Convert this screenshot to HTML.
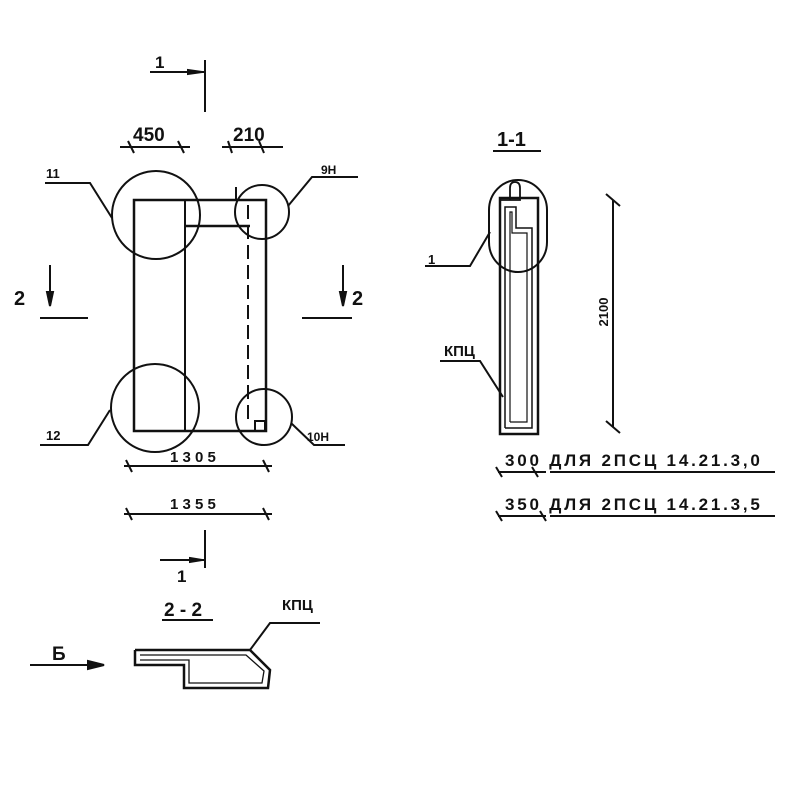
<!DOCTYPE html>
<html><head><meta charset="utf-8"><style>
html,body{margin:0;padding:0;background:#fff;}
svg{display:block;}
text{font-family:"Liberation Sans","DejaVu Sans",sans-serif;font-weight:bold;fill:#111;}
</style></head><body>
<svg width="800" height="800" viewBox="0 0 800 800" xmlns="http://www.w3.org/2000/svg">
<g stroke="#111" fill="none" stroke-width="2">
<line x1="150" y1="72" x2="205" y2="72"/><line x1="205" y1="60" x2="205" y2="112"/>
<path d="M188 70 L202 72 L188 74Z" fill="#111"/>
<line x1="120" y1="147" x2="190" y2="147"/><line x1="222" y1="147" x2="283" y2="147"/>
<line x1="128" y1="141" x2="134" y2="153"/><line x1="178" y1="141" x2="184" y2="153"/>
<line x1="228" y1="141" x2="232" y2="153"/><line x1="259" y1="141" x2="264" y2="153"/>
<rect x="134" y="200" width="132" height="231" stroke-width="2.5"/>
<line x1="185" y1="200" x2="185" y2="431"/>
<line x1="185" y1="226" x2="250" y2="226" stroke-width="2.5"/>
<line x1="236" y1="187" x2="236" y2="200"/>
<line x1="248" y1="205" x2="248" y2="425" stroke-dasharray="14 6"/>
<rect x="255" y="421" width="10" height="10"/>
<circle cx="156" cy="215" r="44"/><circle cx="155" cy="408" r="44"/>
<circle cx="262" cy="212" r="27"/><circle cx="264" cy="417" r="28"/>
<polyline points="45,183 90,183 112,218"/>
<polyline points="358,177 312,177 288,206"/>
<polyline points="40,445 88,445 110,410"/>
<polyline points="345,445 314,445 291,423"/>
<line x1="50" y1="265" x2="50" y2="304"/><path d="M47 292 L50 306 L53 292Z" fill="#111"/>
<line x1="40" y1="318" x2="88" y2="318"/>
<line x1="343" y1="265" x2="343" y2="304"/><path d="M340 292 L343 306 L346 292Z" fill="#111"/>
<line x1="302" y1="318" x2="352" y2="318"/>
<line x1="124" y1="466" x2="272" y2="466"/><line x1="126" y1="460" x2="132" y2="472"/><line x1="263" y1="460" x2="269" y2="472"/>
<line x1="124" y1="514" x2="272" y2="514"/><line x1="126" y1="508" x2="132" y2="520"/><line x1="263" y1="508" x2="269" y2="520"/>
<line x1="160" y1="560" x2="205" y2="560"/><line x1="205" y1="530" x2="205" y2="568"/>
<path d="M190 558 L202 560 L190 562Z" fill="#111"/>
<line x1="493" y1="151" x2="541" y2="151"/>
<path d="M500 433 V200 H520 V188 Q520 182 515 182 Q510 182 510 188 V200" stroke-width="1.8"/>
<rect x="500" y="198" width="38" height="236" stroke-width="2.5"/>
<polyline points="505,428 505,207 516,207 516,228 532,228 532,428 505,428" stroke-width="1.5"/>
<polyline points="510,422 510,212 512,212 512,233 527,233 527,422 510,422" stroke-width="1.2"/>
<rect x="489" y="180" width="58" height="92" rx="29" ry="30"/>
<polyline points="425,266 470,266 490,232"/>
<polyline points="440,361 480,361 503,397"/>
<line x1="613" y1="200" x2="613" y2="427"/>
<line x1="606" y1="194" x2="620" y2="206"/><line x1="606" y1="421" x2="620" y2="433"/>
<line x1="498" y1="472" x2="546" y2="472"/><line x1="550" y1="472" x2="775" y2="472"/>
<line x1="498" y1="516" x2="546" y2="516"/><line x1="550" y1="516" x2="775" y2="516"/>
<line x1="496" y1="467" x2="502" y2="477"/><line x1="532" y1="467" x2="538" y2="477"/>
<line x1="496" y1="511" x2="502" y2="521"/><line x1="540" y1="511" x2="546" y2="521"/>
<line x1="162" y1="620" x2="213" y2="620"/>
<line x1="30" y1="665" x2="100" y2="665"/><path d="M88 661 L104 665 L88 669Z" fill="#111"/>
<polyline points="135,650 250,650 270,670 268,688 184,688 184,665 135,665 135,650" stroke-width="2.5"/>
<polyline points="140,655 246,655 264,671 262,683 189,683 189,660 140,660" stroke-width="1.3"/>
<polyline points="250,650 270,623 320,623"/>
</g>
<g font-size="17">
<text x="155" y="68">1</text>
<text x="133" y="141" font-size="19" font-weight="normal">450</text>
<text x="233" y="141" font-size="19" font-weight="normal">210</text>
<text x="46" y="178" font-size="13">11</text>
<text x="321" y="174" font-size="12">9Н</text>
<text x="46" y="440" font-size="13">12</text>
<text x="307" y="441" font-size="12">10Н</text>
<text x="14" y="305" font-size="20" font-weight="normal">2</text>
<text x="352" y="305" font-size="20" font-weight="normal">2</text>
<text x="170" y="462" font-size="15">1 3 0 5</text>
<text x="170" y="509" font-size="15">1 3 5 5</text>
<text x="177" y="582">1</text>
<text x="164" y="616" font-size="19">2 - 2</text>
<text x="282" y="610" font-size="15">КПЦ</text>
<text x="52" y="660" font-size="19" font-weight="normal">Б</text>
<text x="497" y="146" font-size="20" font-weight="normal">1-1</text>
<text x="428" y="264" font-size="13">1</text>
<text x="444" y="356" font-size="15">КПЦ</text>
<text x="608" y="312" font-size="13" transform="rotate(-90 608 312)" text-anchor="middle">2100</text>
<text x="505" y="466" font-size="17" letter-spacing="2.8">300 ДЛЯ 2ПСЦ 14.21.3,0</text>
<text x="505" y="510" font-size="17" letter-spacing="2.8">350 ДЛЯ 2ПСЦ 14.21.3,5</text>
</g>
</svg>
</body></html>
